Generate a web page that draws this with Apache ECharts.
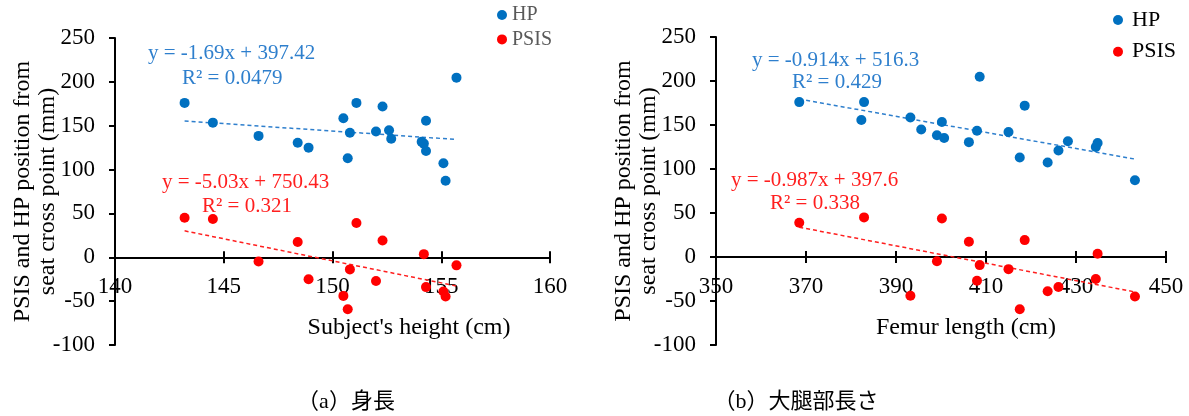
<!DOCTYPE html>
<html>
<head>
<meta charset="utf-8">
<title>HP / PSIS position</title>
<script src="https://cdn.jsdelivr.net/npm/echarts@6/dist/echarts.min.js"></script>
<style>
    body { margin:0; background:#fff; }
    #chart { width:1189px; height:416px; }
</style>
</head>
<body>
<div id="chart"></div>
<script>
// one entry per subject, same order everywhere; null = PSIS not measured
var height = [143.2, 144.5, 146.6, 148.4, 148.9, 150.5, 150.7, 150.8, 151.1, 152.0,
              152.3, 152.6, 152.7, 154.1, 154.2, 154.3, 154.3, 155.1, 155.2, 155.7];
var femur  = [382.9, 400.2, 399.1, 406.2, 434.4, 393.2, 417.5, 415.0, 368.5, 408.0,
              418.6, 395.6, 400.7, 428.2, 434.8, 382.3, 426.1, 423.7, 443.1, 408.6];
var hp     = [176, 153.5, 138.4, 130.5, 125, 158.6, 113, 142, 176, 143.5,
              172, 144.8, 135.2, 131.6, 129.6, 155.6, 121.1, 107.3, 87.3, 204.8];
var psis   = [45, 43.7, -4.9, 17.4, -25, -44, -59.3, -13.8, 39, -27,
              19.2, null, null, null, 3.6, null, -34, -39, -44.8, -9.2];

// trendlines as printed on the charts: [slope, intercept]
var hpFitHeight   = [-1.69, 397.42];
var psisFitHeight = [-5.03, 750.43];
var hpFitFemur    = [-0.914, 516.3];
var psisFitFemur  = [-0.987, 397.6];

var hpTextHeight   = ['y = -1.69x + 397.42', 'R² = 0.0479'];
var psisTextHeight = ['y = -5.03x + 750.43', 'R² = 0.321'];
var hpTextFemur    = ['y = -0.914x + 516.3', 'R² = 0.429'];
var psisTextFemur  = ['y = -0.987x + 397.6', 'R² = 0.338'];

// axis ranges: [min, max, interval]
var heightAxis = [140, 160, 5];
var femurAxis  = [350, 450, 20];
var valueAxis  = [-100, 250, 50];

var xNames   = ["Subject's height (cm)", 'Femur length (cm)'];
var yName    = 'PSIS and HP position from\nseat cross point (mm)';
var captions = ['（a）身長', '（b）大腿部長さ'];

var serif = "'Liberation Serif', 'Times New Roman', serif";
var cjk = "'Liberation Serif', 'Noto Sans CJK JP', serif";
var blue = '#0070C0', red = '#FF0000';
var blueText = '#2E7FCD', redText = '#FF1F1F';

var grids = [
    { left: 115, top: 38, width: 435, height: 307 },
    { left: 716, top: 37, width: 450, height: 308 }
];

function pairs(xs, ys) {
    var out = [];
    for (var i = 0; i < xs.length; i++) {
        if (ys[i] != null) out.push([xs[i], ys[i]]);
    }
    return out;
}

function fitLine(xs, ys, fit) {
    var used = pairs(xs, ys).map(function (p) { return p[0]; });
    var lo = Math.min.apply(null, used), hi = Math.max.apply(null, used);
    return [[lo, fit[0] * lo + fit[1]], [hi, fit[0] * hi + fit[1]]];
}

// x axis sits on y = 0: lift it from the grid bottom
function zeroOffset(g) {
    return -g.height * (0 - valueAxis[0]) / (valueAxis[1] - valueAxis[0]);
}

function xAxes(range, grid, inner) {
    return {
        type: 'value', gridIndex: grid, position: 'bottom', offset: zeroOffset(grids[grid]),
        min: range[0], max: range[1], interval: range[2],
        axisLine: { show: !inner, onZero: false, lineStyle: { color: '#000', width: 2 } },
        axisTick: { show: true, inside: inner, length: 6, lineStyle: { color: '#000', width: 2 } },
        axisLabel: { show: !inner, margin: 18, fontSize: 23, fontFamily: serif, color: '#000' },
        splitLine: { show: false }
    };
}

function yAxis(grid) {
    return {
        type: 'value', gridIndex: grid,
        min: valueAxis[0], max: valueAxis[1], interval: valueAxis[2],
        axisLine: { show: true, onZero: false, lineStyle: { color: '#000', width: 2 } },
        axisTick: { show: true, length: 6, lineStyle: { color: '#000', width: 2 } },
        axisLabel: { margin: 20, fontSize: 23, fontFamily: serif, color: '#000' },
        splitLine: { show: false },
        name: yName, nameLocation: 'middle', nameRotate: 90, nameGap: 55,
        nameMoveOverlap: false,
        nameTextStyle: { fontSize: 24, lineHeight: 25, fontFamily: serif, color: '#000' }
    };
}

function scatter(name, x, y, xi, yi, color) {
    return { type: 'scatter', name: name, xAxisIndex: xi, yAxisIndex: yi,
             data: pairs(x, y), symbolSize: 10, itemStyle: { color: color, opacity: 1 } };
}

function trend(x, y, fit, xi, yi, color) {
    return { type: 'line', xAxisIndex: xi, yAxisIndex: yi, data: fitLine(x, y, fit),
             symbol: 'none', silent: true, z: 1,
             lineStyle: { color: color, width: 1.5, type: [4, 3] } };
}

function label(txt, x, y, color, size, align) {
    return { type: 'text', x: x, y: y, silent: true,
             style: { text: txt, fill: color, font: size + 'px ' + (align === 'c' ? cjk : serif),
                      textAlign: align === 'l' ? 'left' : 'center', textVerticalAlign: 'middle',
                      align: align === 'l' ? 'left' : 'center', verticalAlign: 'middle' } };
}

var chart = echarts.init(document.getElementById('chart'));
var option = {
    animation: false,
    grid: grids.map(function (g) {
        return { left: g.left, top: g.top, width: g.width, height: g.height, outerBoundsMode: 'none' };
    }),
    legend: [
        { data: ['HP', 'PSIS'], orient: 'vertical', left: 497, top: 5, padding: 0,
          icon: 'circle', itemWidth: 10, itemHeight: 10, itemGap: 4.4,
          textStyle: { fontSize: 20, fontFamily: serif, color: '#595959' } },
        { data: ['HP', 'PSIS'], orient: 'vertical', left: 1113, top: 9, padding: 0,
          icon: 'circle', itemWidth: 10, itemHeight: 10, itemGap: 9.7,
          textStyle: { fontSize: 22, fontFamily: serif, color: '#000', padding: [0, 0, 0, 4] } }
    ],
    xAxis: [
        xAxes(heightAxis, 0, false), xAxes(heightAxis, 0, true),
        xAxes(femurAxis, 1, false), xAxes(femurAxis, 1, true)
    ],
    yAxis: [yAxis(0), yAxis(1)],
    series: [
        trend(height, hp, hpFitHeight, 0, 0, blueText),
        trend(height, psis, psisFitHeight, 0, 0, redText),
        trend(femur, hp, hpFitFemur, 2, 1, blueText),
        trend(femur, psis, psisFitFemur, 2, 1, redText),
        scatter('HP', height, hp, 0, 0, blue),
        scatter('PSIS', height, psis, 0, 0, red),
        scatter('HP', femur, hp, 2, 1, blue),
        scatter('PSIS', femur, psis, 2, 1, red)
    ],
    graphic: [
        label(hpTextHeight[0], 148, 53, blueText, 21, 'l'),
        label(hpTextHeight[1], 182, 78, blueText, 21, 'l'),
        label(psisTextHeight[0], 162, 182, redText, 21, 'l'),
        label(psisTextHeight[1], 202, 206, redText, 21, 'l'),
        label(hpTextFemur[0], 752, 60, blueText, 21, 'l'),
        label(hpTextFemur[1], 792, 82, blueText, 21, 'l'),
        label(psisTextFemur[0], 731, 180, redText, 21, 'l'),
        label(psisTextFemur[1], 770, 203, redText, 21, 'l'),
        label(xNames[0], 409, 328, '#000', 24, 'm'),
        label(xNames[1], 966, 328, '#000', 24, 'm'),
        label(captions[0], 346, 402, '#000', 22, 'c'),
        label(captions[1], 796, 402, '#000', 22, 'c')
    ]
};
chart.setOption(option);
</script>
</body>
</html>
